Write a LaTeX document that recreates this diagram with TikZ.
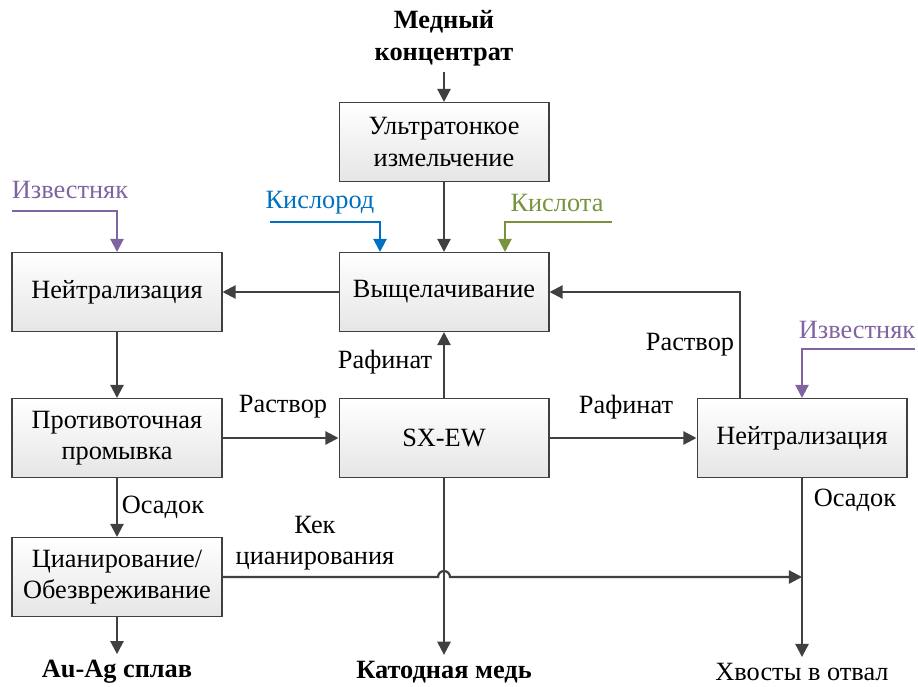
\documentclass[tikz,border=0pt]{standalone}
\usepackage{fontspec}
\setmainfont{Liberation Serif}
\usetikzlibrary{arrows.meta}
\definecolor{linegray}{HTML}{404040}
\definecolor{limecol}{HTML}{8064A2}
\definecolor{oxcol}{HTML}{0070C0}
\definecolor{acidcol}{HTML}{77933C}

\begin{document}
\begin{tikzpicture}[x=0.02cm, y=-0.02cm,
	every node/.style={font=\fontsize{15}{18}\selectfont},
	box/.style={draw=linegray, line width=0.6pt, minimum width=4.2cm, minimum height=1.58cm,
		align=center, top color=white, bottom color=black!10},
	flow/.style={linegray, line width=1.25pt, -{Triangle[length=7.5pt,width=7.5pt]}},
	lbl/.style={align=center},
	prod/.style={align=center, font=\fontsize{15}{18}\selectfont\bfseries}]

	\useasboundingbox (0,0) rectangle (918,686);

	%process boxes
	\node[box] (ultra) at (444,142) {Ультратонкое\\измельчение};
	\node[box] (leach) at (444,292) {Выщелачивание};
	\node[box] (neutL) at (117,292) {Нейтрализация};
	\node[box] (wash) at (117,438) {Противоточная\\промывка};
	\node[box] (sxew) at (444,438) {SX-EW};
	\node[box] (neutR) at (802,438) {Нейтрализация};
	\node[box] (cyan) at (117,577) {Цианирование/\\Обезвреживание};

	%feed and products
	\node[prod] (feed) at (444,38) {Медный\\концентрат};
	\node[prod] (alloy) at (117,672) {Au-Ag сплав};
	\node[prod] (cathode) at (444,672) {Катодная медь};
	\node[lbl] (tails) at (802,672) {Хвосты в отвал};

	%reagents
	\node[oxcol] at (320,203) {Кислород};
	\node[acidcol] at (557,203) {Кислота};
	\node[limecol] at (70,190) {Известняк};
	\node[limecol] at (857,330) {Известняк};
	\coordinate (oxin) at (270,222);
	\coordinate (acidin) at (612,222);
	\coordinate (limeinL) at (12,211);
	\coordinate (limeinR) at (915,349);

	%main flows
	\draw[flow] (feed) -- (ultra);
	\draw[flow] (ultra) -- (leach);
	\draw[flow, oxcol] (oxin) -| ([xshift=-1.28cm]leach.north);
	\draw[flow, acidcol] (acidin) -| ([xshift=1.22cm]leach.north);
	\draw[flow, limecol] (limeinL) -| (neutL.north);
	\draw[flow, limecol] (limeinR) -| (neutR.north);
	\draw[flow] (leach) -- (neutL);
	\draw[flow] (neutL) -- (wash);
	\draw[flow] (wash) -- (sxew);
	\draw[flow] (sxew) -- (leach);
	\draw[flow] (sxew) -- (neutR);
	\draw[flow] ([xshift=-1.24cm]neutR.north) |- (leach.east);
	\draw[flow] (wash) -- (cyan);
	\draw[flow] (cyan) -- (alloy);
	\draw[flow] (sxew) -- (cathode);
	\draw[flow] (neutR) -- (tails);

	%cake line hops over the copper line
	\coordinate (hop) at (sxew |- cyan.east);
	\coordinate (kekend) at (neutR.south |- cyan.east);
	\draw[flow] (cyan.east) -- ([xshift=-3.4pt]hop) arc[start angle=180, end angle=0, radius=3.4pt] -- (kekend);

	%stream labels
	\node[lbl] at (283,407) {Раствор};
	\node[lbl] at (385,362) {Рафинат};
	\node[lbl] at (626,407) {Рафинат};
	\node[lbl] at (690,345) {Раствор};
	\node[lbl] at (163,507) {Осадок};
	\node[lbl] at (855,500) {Осадок};
	\node[lbl] at (315,543) {Кек\\цианирования};

\end{tikzpicture}
\end{document}
